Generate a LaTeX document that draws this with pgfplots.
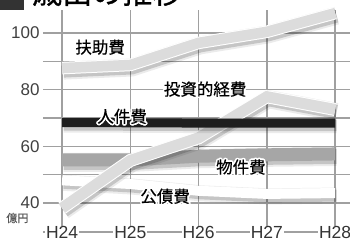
\documentclass[border=0pt]{standalone}
\usepackage{pgfplots}
\pgfplotsset{compat=1.18}
\usepackage{fontspec}
\setmainfont{Liberation Sans}
\newfontfamily\cjk[FakeBold=0.5]{Noto Sans CJK JP}
\newfontfamily\cjktitle[FakeBold=1]{Noto Sans CJK JP}
\usepackage[copies]{contour}
\contourlength{1.6pt}
\contournumber{16}
\definecolor{lband}{HTML}{DCDCDC}
\definecolor{mband}{HTML}{A6A6A6}
\definecolor{dband}{HTML}{1E1E1E}
\definecolor{gridc}{HTML}{A0A0A0}
\pgfplotstableread{
x fujo toshi jinken bukken kosai
0 87.6 38.2 68.4 55.2 48.0
1 88.7 55.0 68.3 55.2 46.7
2 96.5 63.0 68.2 56.5 44.3
3 100.4 77.5 68.2 57.0 43.2
4 107.0 73.0 68.2 57.3 43.5
}\data
\tikzset{
  sha/.style={line width=#1, black, opacity=0.08, line join=miter, line cap=butt, transform canvas={xshift=1.5pt,yshift=-2.5pt}},
  shb/.style={line width=#1, black, opacity=0.16, line join=miter, line cap=butt, transform canvas={xshift=1.5pt,yshift=-2.5pt}},
  band/.style 2 args={line width=#1, draw=#2, line join=miter, line cap=butt, mark=none},
}
\begin{document}
\begin{tikzpicture}
\begin{axis}[
  scale only axis, width=307pt, height=222pt,
  xmin=-0.28, xmax=4.218, ymin=29.76, ymax=108.1,
  clip=false,
  axis x line*=bottom, axis y line*=left,
  x axis line style={draw=gridc, line width=1.5pt, -},
  y axis line style={draw=none},
  xtick={0,1,2,3,4}, xticklabels={H24,H25,H26,H27,H28},
  ytick={40,50,60,70,80,90,100}, yticklabels={40,,60,,80,,100},
  xmajorgrids, ymajorgrids,
  grid style={draw=gridc, line width=1.4pt},
  major tick length=0pt,
  tick style={draw=none},
  /pgf/number format/assume math mode=true,
  xticklabel style={anchor=center, fill=white, inner xsep=1pt, inner ysep=0pt, font=\fontsize{17.5}{17.5}\selectfont, text=black!80},
  yticklabel style={font=\fontsize{17}{17}\selectfont, text=black!75},
]
\coordinate (BL) at (rel axis cs:0,0);
\coordinate (TR) at (rel axis cs:1,1);
% 物件費
\addplot[sha=19pt] table[x=x,y=bukken]{\data};
\addplot[shb=15pt] table[x=x,y=bukken]{\data};
\addplot[band={13pt}{mband}] table[x=x,y=bukken]{\data};
% 公債費
\addplot[sha=16pt] table[x=x,y=kosai]{\data};
\addplot[shb=12pt] table[x=x,y=kosai]{\data};
\addplot[band={10pt}{white}] table[x=x,y=kosai]{\data};
% 投資的経費
\addplot[sha=18pt] table[x=x,y=toshi]{\data};
\addplot[shb=14pt] table[x=x,y=toshi]{\data};
\addplot[band={13pt}{white}] table[x=x,y=toshi]{\data};
\addplot[band={11pt}{lband}] table[x=x,y=toshi]{\data};
% 人件費
\addplot[sha=15pt] table[x=x,y=jinken]{\data};
\addplot[shb=11pt] table[x=x,y=jinken]{\data};
\addplot[band={9pt}{dband}] table[x=x,y=jinken]{\data};
% 扶助費
\addplot[sha=18pt] table[x=x,y=fujo]{\data};
\addplot[shb=14pt] table[x=x,y=fujo]{\data};
\addplot[band={12.5pt}{white}] table[x=x,y=fujo]{\data};
\addplot[band={10.5pt}{lband}] table[x=x,y=fujo]{\data};
% labels
\node[font=\cjk\fontsize{16.5}{16.5}\selectfont] at (axis cs:0.557,94.7) {\contour{white}{扶助費}};
\node[font=\cjk\fontsize{16.5}{16.5}\selectfont] at (axis cs:2.095,79.9) {\contour{white}{投資的経費}};
\node[font=\cjk\fontsize{16.5}{16.5}\selectfont] at (axis cs:0.879,70.3) {\contour{white}{人件費}};
\node[font=\cjk\fontsize{16.5}{16.5}\selectfont] at (axis cs:2.62,52.4) {\contour{white}{物件費}};
\node[font=\cjk\fontsize{16.5}{16.5}\selectfont] at (axis cs:1.51,42.1) {\contour{white}{公債費}};
\node[font=\cjk\fontsize{11}{11}\selectfont, text=black!65] at (axis cs:-0.655,34.7) {億円};
% title
\fill[black!80] (axis cs:-0.908,108.1) rectangle (axis cs:-0.557,115);
\node[anchor=base west, inner sep=0pt, font=\cjktitle\fontsize{30}{30}\selectfont] at (axis cs:-0.44,110.4) {歳出の推移};
\end{axis}
\pgfresetboundingbox
\path ([xshift=-43pt,yshift=-10pt]BL) rectangle ([yshift=10pt]TR);
\end{tikzpicture}
\end{document}
